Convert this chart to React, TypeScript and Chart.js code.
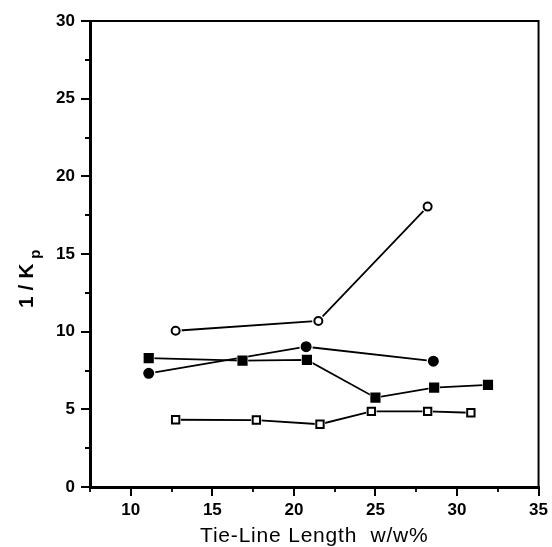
import { useEffect, useRef } from "react";
import { Chart, registerables } from "chart.js";

Chart.register(...registerables);

// Series: 1/Kp against tie-line length (w/w%)
const openCircleX = [12.75, 21.5, 28.2];
const openCircleY = [10.06, 10.69, 18.05];

const filledCircleX = [11.1, 20.75, 28.55];
const filledCircleY = [7.32, 9.03, 8.1];

const filledSquareX = [11.1, 16.85, 20.8, 25.0, 28.6, 31.9];
const filledSquareY = [8.3, 8.13, 8.18, 5.75, 6.4, 6.57];

const openSquareX = [12.75, 17.7, 21.6, 24.75, 28.2, 30.85];
const openSquareY = [4.33, 4.31, 4.04, 4.87, 4.87, 4.78];

// Axis ticks
const xMajorTicks = [10, 15, 20, 25, 30, 35];
const xMinorTicks = [7.5, 12.5, 17.5, 22.5, 27.5, 32.5];
const yMajorTicks = [0, 5, 10, 15, 20, 25, 30];
const yMinorTicks = [2.5, 7.5, 12.5, 17.5, 22.5, 27.5];

const xTitle = "Tie-Line Length  w/w%";
const yTitleMain = "1 / K";
const yTitleSub = "p";

const FONT = '"Liberation Sans", Arial, Helvetica, sans-serif';

type Marker = {
  style: "circle" | "rect";
  radius: number;
  fill: string;
};

const zip = (xs: number[], ys: number[]) => xs.map((x, i) => ({ x, y: ys[i] }));

function seriesDatasets(xs: number[], ys: number[], m: Marker) {
  const data = zip(xs, ys);
  return [
    {
      data,
      borderColor: "#000",
      borderWidth: 1.8,
      pointRadius: 0,
      showLine: true,
      order: 3,
    },
    {
      data,
      showLine: false,
      pointStyle: m.style,
      pointRadius: m.radius + 2.2,
      pointBackgroundColor: "#fff",
      pointBorderColor: "#fff",
      pointBorderWidth: 0,
      order: 2,
    },
    {
      data,
      showLine: false,
      pointStyle: m.style,
      pointRadius: m.radius,
      pointBackgroundColor: m.fill,
      pointBorderColor: "#000",
      pointBorderWidth: 2,
      order: 1,
    },
  ];
}

const decorPlugin = {
  id: "decor",
  afterDraw(chart: any) {
    const { ctx, chartArea: a, scales } = chart;
    const xs = scales.x;
    const ys = scales.y;
    ctx.save();
    ctx.strokeStyle = "#000";
    ctx.lineWidth = 2;

    // top and right frame
    ctx.beginPath();
    ctx.moveTo(a.left, a.top);
    ctx.lineTo(a.right, a.top);
    ctx.lineTo(a.right, a.bottom);
    ctx.stroke();

    // minor ticks
    ctx.lineWidth = 1.8;
    ctx.beginPath();
    xMinorTicks.forEach((v) => {
      const px = Math.round(xs.getPixelForValue(v));
      ctx.moveTo(px, a.bottom);
      ctx.lineTo(px, a.bottom + 5);
    });
    yMinorTicks.forEach((v) => {
      const py = Math.round(ys.getPixelForValue(v));
      ctx.moveTo(a.left, py);
      ctx.lineTo(a.left - 5, py);
    });
    ctx.stroke();

    ctx.fillStyle = "#000";

    // x title
    ctx.font = `21px ${FONT}`;
    (ctx as any).letterSpacing = "0.8px";
    ctx.textAlign = "center";
    ctx.textBaseline = "alphabetic";
    ctx.fillText(xTitle, (a.left + a.right) / 2, 542);
    (ctx as any).letterSpacing = "0px";

    // y title, rotated, with subscript
    ctx.save();
    ctx.translate(33, 308);
    ctx.rotate(-Math.PI / 2);
    ctx.textAlign = "left";
    ctx.font = `bold 21px ${FONT}`;
    ctx.fillText(yTitleMain, 0, 0);
    const w = ctx.measureText(yTitleMain).width;
    ctx.font = `bold 15px ${FONT}`;
    ctx.fillText(yTitleSub, w + 5, 6.5);
    ctx.restore();

    ctx.restore();
  },
};

export default function App() {
  const canvasRef = useRef<HTMLCanvasElement | null>(null);

  useEffect(() => {
    const canvas = canvasRef.current;
    if (!canvas) return;

    const datasets = [
      ...seriesDatasets(openCircleX, openCircleY, { style: "circle", radius: 4, fill: "#fff" }),
      ...seriesDatasets(filledCircleX, filledCircleY, { style: "circle", radius: 4.5, fill: "#000" }),
      ...seriesDatasets(filledSquareX, filledSquareY, { style: "rect", radius: 5.8, fill: "#000" }),
      ...seriesDatasets(openSquareX, openSquareY, { style: "rect", radius: 5.2, fill: "#fff" }),
    ];

    const tickFont = { family: FONT, size: 17, weight: "bold" as const };

    const chart = new Chart(canvas, {
      type: "scatter",
      data: { datasets: datasets as any },
      plugins: [decorPlugin],
      options: {
        animation: false,
        responsive: false,
        maintainAspectRatio: false,
        devicePixelRatio: 1,
        layout: { padding: { left: 0, top: 21, right: 10, bottom: 0 } },
        plugins: {
          legend: { display: false },
          tooltip: { enabled: false },
          title: { display: false },
        },
        scales: {
          x: {
            type: "linear",
            min: 7.5,
            max: 35,
            afterBuildTicks: (scale: any) => {
              scale.ticks = xMajorTicks.map((value) => ({ value }));
            },
            afterFit: (scale: any) => {
              scale.height = 60;
            },
            border: { display: true, color: "#000", width: 3 },
            grid: {
              display: true,
              drawOnChartArea: false,
              drawTicks: true,
              tickLength: 9,
              color: "#000",
              lineWidth: 2,
            },
            ticks: {
              color: "#000",
              font: tickFont,
              padding: 4,
              maxRotation: 0,
              autoSkip: false,
            },
          },
          y: {
            type: "linear",
            min: 0,
            max: 30,
            afterBuildTicks: (scale: any) => {
              scale.ticks = yMajorTicks.map((value) => ({ value }));
            },
            afterFit: (scale: any) => {
              scale.width = 90;
            },
            border: { display: true, color: "#000", width: 3 },
            grid: {
              display: true,
              drawOnChartArea: false,
              drawTicks: true,
              tickLength: 9,
              color: "#000",
              lineWidth: 2,
            },
            ticks: {
              color: "#000",
              font: tickFont,
              padding: 6,
              autoSkip: false,
            },
          },
        },
      },
    });

    return () => chart.destroy();
  }, []);

  return (
    <div style={{ position: "absolute", left: 0, top: 0, width: 552, height: 547, background: "#fff" }}>
      <canvas ref={canvasRef} width={552} height={547} />
    </div>
  );
}
